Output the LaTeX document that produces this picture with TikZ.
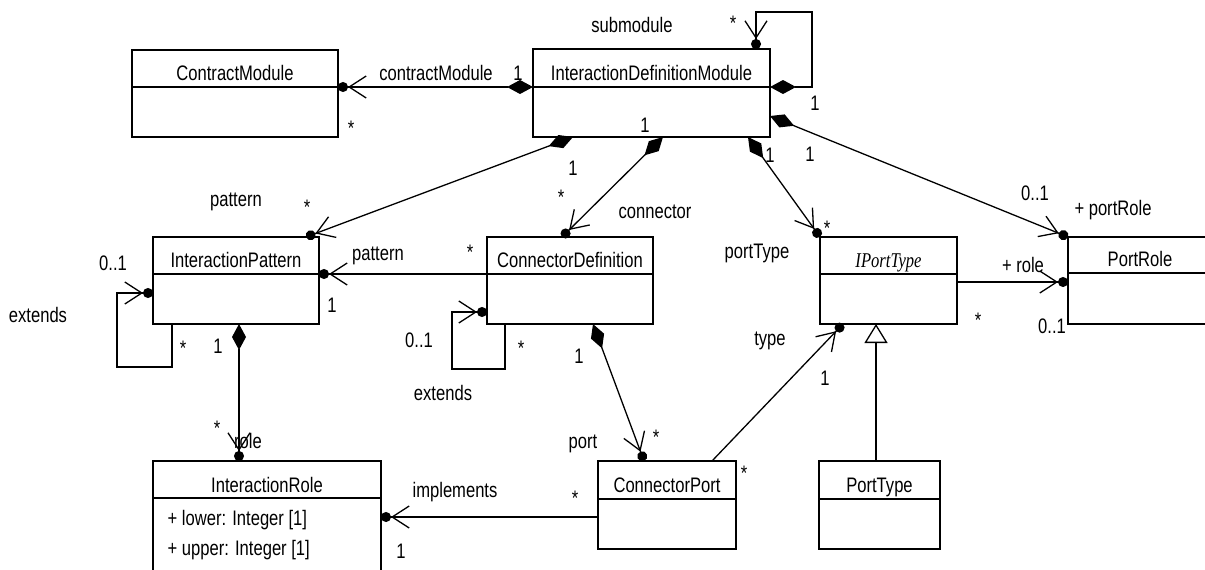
\documentclass[tikz,border=0pt]{standalone}
\usepackage{fontspec}
\setmainfont{Liberation Sans}[FakeStretch=0.79]
\newfontfamily\ifacefont{Liberation Serif}[FakeStretch=0.79]
\usetikzlibrary{arrows.meta}

\tikzset{
  umlclass/.style={draw, anchor=north west, inner sep=0pt, outer sep=0pt},
  clsname/.style={anchor=base, inner sep=0pt},
  lbl/.style={anchor=base, inner sep=0pt},
  nav/.style={-{Straight Barb[length=17pt,width=22pt,sep=0pt]Circle[length=10pt,sep=0pt]}},
  compnav/.style={{Diamond[length=26pt,width=14pt]}-{Straight Barb[length=17pt,width=22pt,sep=0pt]Circle[length=10pt,sep=0pt]}},
  gen/.style={-{Triangle[open,length=19pt,width=23pt]}}
}

\begin{document}
\begin{tikzpicture}[x=1pt, y=-1pt, line width=1.3pt, font=\fontsize{21}{25}\selectfont]
  \useasboundingbox (0,0) rectangle (1205,570);
  \clip (0,0) rectangle (1205,570);

  % classes
  \node[umlclass, minimum width=206pt, minimum height=87pt] (contract) at (132,50) {};
  \node[umlclass, minimum width=237pt, minimum height=88pt] (idm) at (533,49) {};
  \node[umlclass, minimum width=166pt, minimum height=87pt] (ipat) at (153,237) {};
  \node[umlclass, minimum width=166pt, minimum height=87pt] (cdef) at (487,237) {};
  \node[umlclass, minimum width=137pt, minimum height=87pt] (iport) at (820,237) {};
  \node[umlclass, minimum width=144pt, minimum height=87pt] (prole) at (1068,237) {};
  \node[umlclass, minimum width=228pt, minimum height=120pt] (irole) at (153,461) {};
  \node[umlclass, minimum width=138pt, minimum height=88pt] (cport) at (598,461) {};
  \node[umlclass, minimum width=121pt, minimum height=88pt] (ptype) at (819,461) {};

  \foreach \n/\d in {contract/37, idm/38, ipat/37, cdef/37, iport/37, prole/36, irole/37, cport/38, ptype/38}
    \draw ([yshift=-\d pt]\n.north west) -- ([yshift=-\d pt]\n.north east);

  \node[clsname] (contractname) at ([yshift=-30pt]contract.north) {ContractModule};
  \node[clsname] (idmname) at ([yshift=-31pt]idm.north) {InteractionDefinitionModule};
  \node[clsname] (ipatname) at ([yshift=-30pt]ipat.north) {InteractionPattern};
  \node[clsname] (cdefname) at ([yshift=-30pt]cdef.north) {ConnectorDefinition};
  \node[clsname] (iportname) at ([yshift=-30pt]iport.north) {\ifacefont\itshape IPortType};
  \node[clsname] (prolename) at ([yshift=-29pt]prole.north) {PortRole};
  \node[clsname] (irolename) at ([yshift=-31pt]irole.north) {InteractionRole};
  \node[clsname] (cportname) at ([yshift=-31pt]cport.north) {ConnectorPort};
  \node[clsname] (ptypename) at ([yshift=-31pt]ptype.north) {PortType};
  \node[anchor=base west, inner sep=0pt] (lower) at (167,525) {+ lower: Integer [1]};
  \node[anchor=base west, inner sep=0pt] (upper) at (167,555) {+ upper: Integer [1]};

  % associations
  \draw[compnav] ([yshift=-38pt]idm.north west) -- ([yshift=-37pt]contract.north east);
  \draw[compnav] ([yshift=-38pt]idm.north east) -| ++(42,-75) -| ([xshift=-14pt]idm.north east);
  \draw[compnav] ([xshift=40pt]idm.south west) -- ([xshift=-13pt]ipat.north east);
  \draw[compnav] ([xshift=130pt]idm.south west) -- ([xshift=75pt]cdef.north west);
  \draw[compnav] ([xshift=215pt]idm.south west) -- (iport.north west);
  \draw[compnav] ([yshift=-67pt]idm.north east) -- (prole.north west);
  \draw[nav] ([yshift=-45pt]iport.north east) -- ([yshift=-45pt]prole.north west);
  \draw[nav] ([yshift=-37pt]cdef.north west) -- ([yshift=-37pt]ipat.north east);
  \draw[nav] ([xshift=19pt]ipat.south west) -- ++(0,43) -| ++(-55,-74) -- ([yshift=-56pt]ipat.north west);
  \draw[nav] ([xshift=18pt]cdef.south west) -- ++(0,45) -| ++(-53,-57) -- ([yshift=-75pt]cdef.north west);
  \draw[compnav] ([xshift=86pt]ipat.south west) -- ([xshift=86pt]irole.north west);
  \draw[compnav] ([xshift=106pt]cdef.south west) -- ([xshift=46pt]cport.north west);
  \draw[nav] ([xshift=114pt]cport.north west) -- ([xshift=23pt]iport.south west);
  \draw[gen] ([xshift=57pt]ptype.north west) -- ([xshift=56pt]iport.south west);
  \draw[nav] ([yshift=-56pt]cport.north west) -- ([yshift=-56pt]irole.north east);

  % role names and multiplicities
  \node[lbl] (cmrole) at (436,80) {contractModule};
  \node[lbl] (cmone) at (518,80) {1};
  \node[lbl] (cmstar) at (351,135) {*};
  \node[lbl] (subrole) at (632,32) {submodule};
  \node[lbl] (substar) at (733,30) {*};
  \node[lbl] (subone) at (815,110) {1};
  \node[lbl] (conone) at (645,132) {1};
  \node[lbl] (patrole) at (236,206) {pattern};
  \node[lbl] (patstar) at (307,214) {*};
  \node[lbl] (patone) at (573,175) {1};
  \node[lbl] (constar) at (561,204) {*};
  \node[lbl] (conrole) at (655,218) {connector};
  \node[lbl] (ptone) at (770,162) {1};
  \node[lbl] (prone) at (810,161) {1};
  \node[lbl] (ptrole) at (757,258) {portType};
  \node[lbl] (ptstar) at (827,235) {*};
  \node[lbl] (prmult) at (1035,200) {0..1};
  \node[lbl] (prrole) at (1113,215) {+ portRole};
  \node[lbl] (rolerole) at (1023,272) {+ role};
  \node[lbl] (rolestar) at (978,327) {*};
  \node[lbl] (rolemult) at (1052,333) {0..1};
  \node[lbl] (ipxmult) at (113,270) {0..1};
  \node[lbl] (ipxrole) at (38,322) {extends};
  \node[lbl] (ipxstar) at (183,355) {*};
  \node[lbl] (cppone) at (332,312) {1};
  \node[lbl] (cpprole) at (378,260) {pattern};
  \node[lbl] (cppstar) at (470,259) {*};
  \node[lbl] (cdxmult) at (419,347) {0..1};
  \node[lbl] (cdxstar) at (521,355) {*};
  \node[lbl] (cdxrole) at (443,400) {extends};
  \node[lbl] (irone) at (218,353) {1};
  \node[lbl] (irstar) at (217,435) {*};
  \node[lbl] (irrole) at (248,448) {role};
  \node[lbl] (portone) at (579,363) {1};
  \node[lbl] (portrole) at (583,448) {port};
  \node[lbl] (portstar) at (656,444) {*};
  \node[lbl] (typerole) at (770,345) {type};
  \node[lbl] (typeone) at (825,385) {1};
  \node[lbl] (typestar) at (744,480) {*};
  \node[lbl] (improle) at (455,497) {implements};
  \node[lbl] (impstar) at (575,505) {*};
  \node[lbl] (impone) at (401,558) {1};
\end{tikzpicture}
\end{document}
